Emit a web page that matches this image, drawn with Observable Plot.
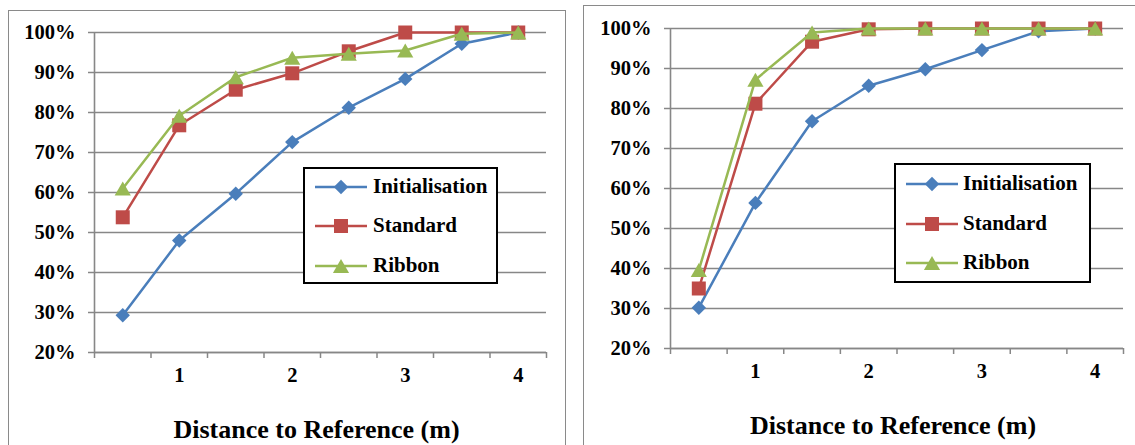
<!DOCTYPE html>
<html><head><meta charset="utf-8">
<script src="https://cdn.jsdelivr.net/npm/d3@7"></script>
<script src="https://cdn.jsdelivr.net/npm/@observablehq/plot@0.6"></script>
<style>
body{margin:0;background:#fff;}
#root{position:relative;width:1135px;height:445px;overflow:hidden;font-family:'Liberation Serif',serif;font-weight:bold;}
.frame{position:absolute;border:1.5px solid #8a8a8a;box-sizing:border-box;}
.chart{position:absolute;top:0;}
.legend{position:absolute;border:2px solid #000;background:#fff;box-sizing:border-box;}
.legend .sw{position:absolute;}
.legend .lbl{position:absolute;font-family:'Liberation Serif',serif;font-weight:bold;font-size:21px;line-height:21px;white-space:nowrap;color:#000;}
</style></head><body><div id="root"></div>
<script>
// ---- data ----
const distances = [0.5, 1, 1.5, 2, 2.5, 3, 3.5, 4];
const categoryEdges = [0.25, 0.75, 1.25, 1.75, 2.25, 2.75, 3.25, 3.75, 4.25];
const xTickLabels = [1, 2, 3, 4];
const yTicks = [0.2, 0.3, 0.4, 0.5, 0.6, 0.7, 0.8, 0.9, 1.0];
const seriesNames = ["Initialisation", "Standard", "Ribbon"];
const seriesColors = ["#4A7EBB", "#BE4B48", "#98B954"];
const seriesSymbols = ["diamond2", "square", "triangle"];
const xTitle = "Distance to Reference (m)";

const leftInitialisation = [29.3, 48.0, 59.7, 72.6, 81.2, 88.4, 97.2, 100];
const leftStandard       = [53.8, 76.8, 85.7, 89.8, 95.3, 100, 100, 100];
const leftRibbon         = [61.0, 79.2, 88.8, 93.7, 94.7, 95.5, 99.7, 100];

const rightInitialisation = [30.2, 56.4, 76.8, 85.7, 89.8, 94.6, 99.3, 100];
const rightStandard       = [35.0, 81.2, 96.7, 99.8, 100, 100, 100, 100];
const rightRibbon         = [39.6, 87.2, 99.0, 100, 100, 100, 100, 100];

const FONT = "'Liberation Serif', serif";
const root = document.getElementById("root");
const grid = "#878787";

function symbolStyle(i) {
  return [{r: 6.5, dy: 0}, {r: 7.9, dy: 0}, {r: 6.0, dy: 2.3}][i];
}

function panel(valueSets, cfg) {
  const marks = [
    Plot.gridY(yTicks, {stroke: grid, strokeOpacity: 1, strokeWidth: 1.5}),
    Plot.axisY(yTicks, {tickFormat: d3.format(".0%"), tickSize: 6, tickPadding: 13, stroke: grid, strokeWidth: 1.5, fontSize: 20.5, fill: "#000", label: null}),
    Plot.ruleX([0.25], {stroke: grid, strokeWidth: 1.6}),
    Plot.ruleY([0.2], {stroke: grid, strokeWidth: 1.6}),
    Plot.axisX(categoryEdges, {tickFormat: () => "", tickSize: 6, stroke: grid, strokeWidth: 1.5, label: null}),
    Plot.axisX(xTickLabels, {tickFormat: d3.format("d"), tickSize: 0, tickPadding: 15, fontSize: 20.5, fill: "#000", label: null}),
    Plot.text([xTitle], {frameAnchor: "bottom", lineAnchor: "middle", dy: cfg.titleDy, dx: -4, fontSize: 26, fill: "#000", fontWeight: "bold"})
  ];
  valueSets.forEach((vals, i) => {
    const rows = distances.map((d, j) => ({d, v: vals[j] / 100}));
    const s = symbolStyle(i);
    marks.push(Plot.line(rows, {x: "d", y: "v", stroke: seriesColors[i], strokeWidth: 2.5}));
    marks.push(Plot.dot(rows, {x: "d", y: "v", symbol: seriesSymbols[i], r: s.r, dy: s.dy, fill: seriesColors[i], stroke: null}));
  });
  const chart = Plot.plot({
    width: cfg.width, height: 445,
    marginLeft: cfg.marginLeft, marginRight: cfg.marginRight,
    marginTop: cfg.marginTop, marginBottom: cfg.marginBottom,
    style: {fontFamily: FONT, fontWeight: "bold", fontSize: "20px", color: "#000", background: "transparent", overflow: "visible"},
    x: {domain: [0.25, 4.25], axis: null, label: null},
    y: {domain: [0.2, 1], axis: null, label: null},
    marks
  });
  chart.classList.add("chart");
  chart.style.left = cfg.left + "px";
  chart.style.fontFamily = FONT;
  root.appendChild(chart);
}

function frame(left, top, width, height) {
  const f = document.createElement("div");
  f.className = "frame";
  Object.assign(f.style, {left: left + "px", top: top + "px", width: width + "px", height: height + "px"});
  root.appendChild(f);
}

function legend(cfg) {
  const box = document.createElement("div");
  box.className = "legend";
  Object.assign(box.style, {left: cfg.left + "px", top: cfg.top + "px", width: cfg.width + "px", height: cfg.height + "px"});
  seriesNames.forEach((name, i) => {
    const cy = cfg.rows[i] - 2;
    const sw = d3.create("svg").attr("class", "sw").attr("width", 54).attr("height", 24)
      .style("left", (cfg.swX - 2) + "px").style("top", (cy - 12) + "px");
    sw.append("line").attr("x1", 0).attr("x2", 52).attr("y1", 12).attr("y2", 12)
      .attr("stroke", seriesColors[i]).attr("stroke-width", 2.5);
    const s = symbolStyle(i);
    const sym = [d3.symbolDiamond2, d3.symbolSquare, d3.symbolTriangle][i];
    sw.append("path").attr("d", d3.symbol(sym, Math.PI * s.r * s.r)())
      .attr("transform", `translate(26,${12 + s.dy})`).attr("fill", seriesColors[i]);
    box.appendChild(sw.node());
    const t = document.createElement("div");
    t.className = "lbl";
    t.textContent = name;
    Object.assign(t.style, {left: (cfg.textX - 2) + "px", top: (cy - 11) + "px"});
    box.appendChild(t);
  });
  root.appendChild(box);
}

frame(8, 10, 558, 460);
frame(583, 5, 600, 460);

panel([leftInitialisation, leftStandard, leftRibbon],
  {left: 0, width: 570, marginLeft: 94, marginRight: 24, marginTop: 32, marginBottom: 93, titleDy: 77});
panel([rightInitialisation, rightStandard, rightRibbon],
  {left: 575, width: 560, marginLeft: 95, marginRight: 12, marginTop: 28, marginBottom: 97, titleDy: 77});

legend({left: 303, top: 167, width: 195, height: 117, swX: 12, textX: 70, rows: [20, 59, 99]});
legend({left: 894, top: 163, width: 197, height: 120, swX: 12, textX: 69, rows: [21, 61, 100]});
</script>
</body></html>
